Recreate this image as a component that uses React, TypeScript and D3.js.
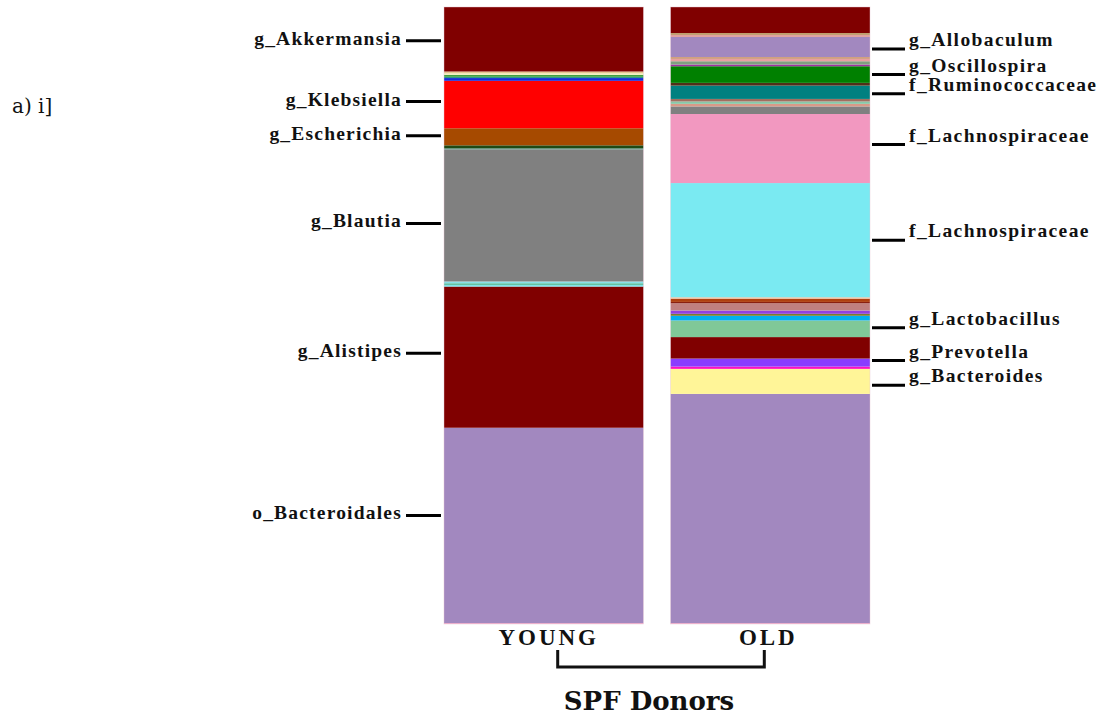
import React from "react";
import * as d3 from "d3";

// Relative abundance (%) of each taxon, listed from the bottom of the bar to the top.
const groups = ["YOUNG", "OLD"];

const youngTaxa = [
  "minor#y0", "o_Bacteroidales", "g_Alistipes", "minor#y1", "minor#y2", "minor#y3",
  "g_Blautia", "minor#y4", "minor#y5", "g_Escherichia", "g_Klebsiella",
  "minor#y6", "minor#y7", "minor#y8", "minor#y9", "minor#y10", "g_Akkermansia",
];
const youngValues = [
  0.15, 31.62, 22.85, 0.26, 0.28, 0.28,
  21.39, 0.16, 0.49, 2.76, 7.68,
  0.45, 0.2, 0.3, 0.26, 0.3, 10.44,
];

const oldTaxa = [
  "minor#o0", "minor#o1", "g_Bacteroides", "minor#o2", "g_Prevotella", "minor#o3",
  "g_Lactobacillus", "minor#o4", "minor#o5", "minor#o6", "minor#o7", "minor#o8",
  "minor#o9", "minor#o10", "f_Lachnospiraceae#b", "f_Lachnospiraceae#a", "minor#o11",
  "minor#o12", "minor#o13", "minor#o14", "f_Ruminococcaceae", "minor#o15",
  "g_Oscillospira", "minor#o16", "minor#o17", "minor#o18", "minor#o19",
  "g_Allobaculum", "minor#o20", "minor#o21", "minor#o22",
];
const oldValues = [
  0.15, 37.1, 4.05, 0.37, 1.3, 3.47,
  2.69, 0.76, 0.32, 0.53, 1.18, 0.21,
  0.53, 0.23, 18.48, 11.18, 1.23,
  0.41, 0.39, 0.41, 2.16, 0.44,
  2.69, 0.28, 0.53, 0.37, 0.32,
  3.24, 0.32, 0.32, 4.21,
];

// Fill colours, parallel to the taxa arrays above.
const youngColors = [
  "#f2a8c8", "#a288bf", "#800000", "#7fe3ea", "#5fbf9f", "#88e0e8",
  "#808080", "#5a9a8a", "#1e4a14", "#a64a00", "#ff0000",
  "#1a2cd8", "#2a9a8a", "#40a040", "#f4f0c0", "#e8c890", "#800000",
];
const oldColors = [
  "#f2a8c8", "#a288bf", "#fff598", "#ff10c0", "#8a3cff", "#800000",
  "#80c898", "#00b0f0", "#7a7a30", "#9040e0", "#c08080", "#8a2010",
  "#b04010", "#f0c0a0", "#7aeaf2", "#f298c0", "#808080",
  "#d89a88", "#88c8a8", "#a07060", "#008080", "#503018",
  "#008000", "#a030a0", "#80a080", "#e8a0a0", "#d0a080",
  "#a288bf", "#e0a0a0", "#c0a070", "#800000",
];

// Taxa that carry a name tag beside the bar.
const youngLabeled = [
  "g_Akkermansia", "g_Klebsiella", "g_Escherichia", "g_Blautia", "g_Alistipes", "o_Bacteroidales",
];
const oldLabeled = [
  "g_Allobaculum", "g_Oscillospira", "f_Ruminococcaceae", "f_Lachnospiraceae#a",
  "f_Lachnospiraceae#b", "g_Lactobacillus", "g_Prevotella", "g_Bacteroides",
];

// Small vertical nudges (px) so the tags sit where they read best.
const tagNudge: Record<string, number> = {
  "g_Akkermansia": 1.5, "g_Klebsiella": -3, "g_Escherichia": -1, "g_Blautia": 8,
  "g_Alistipes": -4, "o_Bacteroidales": -10, "g_Allobaculum": 2, "f_Ruminococcaceae": 1.5,
  "f_Lachnospiraceae#a": -4, "g_Lactobacillus": -1, "g_Prevotella": -2, "g_Bacteroides": 4,
};

const W = 1104;
const H = 719;
const top = 7;
const bottom = 624;

const serif = "'Liberation Serif', 'Times New Roman', serif";
const bookSerif = "'DejaVu Serif', serif";

function buildLayers(taxa: string[], values: number[], colors: string[]) {
  const ends = Array.from(d3.cumsum(values));
  const total = ends[ends.length - 1];
  const y = d3.scaleLinear().domain([0, total]).range([bottom, top]);
  return taxa.map((t, i) => ({
    taxon: t,
    name: t.split("#")[0],
    color: colors[i],
    y0: y(i === 0 ? 0 : ends[i - 1]),
    y1: y(ends[i]),
  }));
}

export default function App() {
  const x = d3.scaleBand<string>().domain(groups).range([444, 870]).paddingInner(0.12);
  const bw = x.bandwidth();

  const bars = [
    { group: "YOUNG", layers: buildLayers(youngTaxa, youngValues, youngColors), labeled: youngLabeled, side: "left" },
    { group: "OLD", layers: buildLayers(oldTaxa, oldValues, oldColors), labeled: oldLabeled, side: "right" },
  ];

  const xY = x("YOUNG")! + bw / 2;
  const xO = x("OLD")! + bw / 2;

  return (
    <svg
      width={W}
      height={H}
      viewBox={`0 0 ${W} ${H}`}
      style={{ position: "absolute", left: 0, top: 0, background: "#fff" }}
    >
      <text x={12} y={113} fontFamily={bookSerif} fontSize={20} fill="#111">
        a) i]
      </text>

      {bars.map((b) => {
        const x0 = x(b.group)!;
        const x1 = x0 + bw;
        return (
          <g key={b.group}>
            {b.layers.map((l) => (
              <rect
                key={l.taxon}
                x={x0}
                y={l.y1}
                width={bw}
                height={Math.max(0, l.y0 - l.y1)}
                fill={l.color}
              />
            ))}
            <rect
              x={x0}
              y={top}
              width={bw}
              height={bottom - top}
              fill="none"
              stroke="#e6c4d2"
              strokeOpacity={0.6}
              strokeWidth={0.7}
            />
            {b.layers
              .filter((l) => b.labeled.includes(l.taxon))
              .map((l) => {
                const ly = (l.y0 + l.y1) / 2 + (tagNudge[l.taxon] ?? 0);
                if (b.side === "left") {
                  return (
                    <g key={l.taxon}>
                      <line x1={x0 - 38} x2={x0 - 3} y1={ly} y2={ly} stroke="#000" strokeWidth={3} />
                      <text
                        x={x0 - 42}
                        y={ly + 4}
                        textAnchor="end"
                        fontFamily={serif}
                        fontWeight="bold"
                        fontSize={19.5}
                        letterSpacing={1.2}
                        fill="#111"
                      >
                        {l.name}
                      </text>
                    </g>
                  );
                }
                return (
                  <g key={l.taxon}>
                    <line x1={x1 + 2} x2={x1 + 35} y1={ly} y2={ly} stroke="#000" strokeWidth={3} />
                    <text
                      x={x1 + 39}
                      y={ly - 3}
                      fontFamily={serif}
                      fontWeight="bold"
                      fontSize={19.5}
                      letterSpacing={1.4}
                      fill="#111"
                    >
                      {l.name}
                    </text>
                  </g>
                );
              })}
          </g>
        );
      })}

      {groups.map((g) => (
        <text
          key={g}
          x={x(g)! + bw / 2 + (g === "YOUNG" ? 5 : -2)}
          y={645}
          textAnchor="middle"
          fontFamily={serif}
          fontWeight="bold"
          fontSize={23}
          letterSpacing={3}
          fill="#111"
        >
          {g}
        </text>
      ))}

      <path
        d={`M${xY + 14},650 V667 H${xO - 6} V650`}
        fill="none"
        stroke="#111"
        strokeWidth={3}
      />

      <text
        x={(xY + xO) / 2 - 8}
        y={710}
        textAnchor="middle"
        fontFamily={bookSerif}
        fontWeight="bold"
        fontSize={26}
        fill="#111"
      >
        SPF Donors
      </text>
    </svg>
  );
}
